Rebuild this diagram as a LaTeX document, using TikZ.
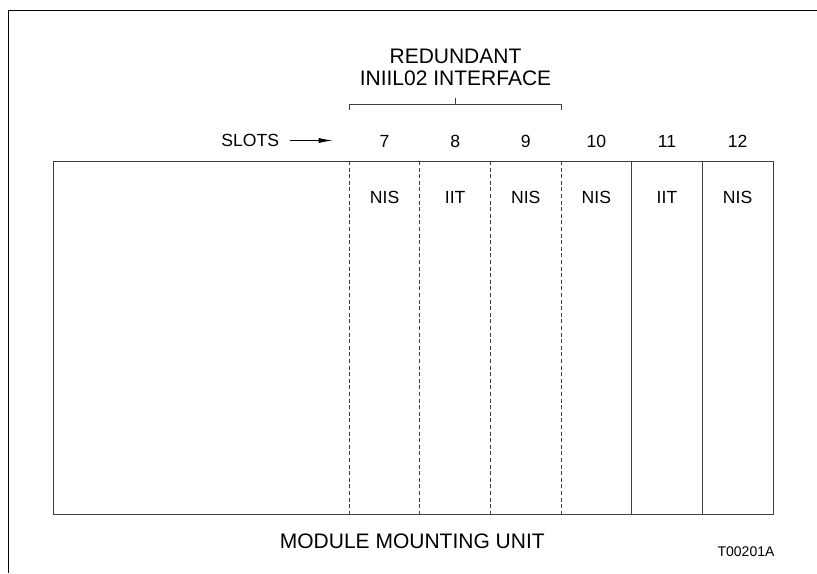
\documentclass[tikz,border=0pt]{standalone}
\usepackage{fontspec}
\setmainfont{Liberation Sans}
\usetikzlibrary{arrows.meta,positioning}

\tikzset{
    titletext/.style={font=\fontsize{10.5}{12}\selectfont, inner sep=0pt},
    slottext/.style={font=\fontsize{8.8}{10}\selectfont, inner sep=0pt},
    slotline/.style={line width=0.5pt, black!75},
    dashline/.style={line width=0.5pt, black!75, dash pattern=on 2pt off 1.3pt},
}

\begin{document}
\begin{tikzpicture}[x=0.5pt,y=-0.5pt]
    \useasboundingbox (0,0) rectangle (817,573);
    % frame
    \draw[line width=0.75pt] (817,10.7) -- (8.3,10.7) -- (8.3,573);
    % mounting unit
    \draw[slotline] (53,161) rectangle (773,514);
    \foreach \i in {0,...,3}
        \draw[dashline] (349.3+70.6*\i,161) -- (349.3+70.6*\i,514);
    \foreach \i in {4,5}
        \draw[slotline] (349.3+70.6*\i,161) -- (349.3+70.6*\i,514);
    \foreach \n/\lab [count=\i from 0] in {7/NIS,8/IIT,9/NIS,10/NIS,11/IIT,12/NIS} {
        \node[slottext] (num\n) at (384.6+70.6*\i,141) {\n};
        \node[slottext] (card\n) at (384.6+70.6*\i,197.5) {\lab};
    }
    % redundant pair bracket
    \node[titletext, anchor=base] (redund) at (455.5,63.3) {REDUNDANT};
    \node[titletext, anchor=base] (iface) at (455.5,85.7) {INIIL02 INTERFACE};
    \draw[slotline] (349.3,110) -- (349.3,104) -- (561.1,104) -- (561.1,110);
    \draw[slotline] (455.2,104) -- (455.2,98.3);
    % slots arrow
    \node[slottext, anchor=east] (slots) at (279.5,140.5) {SLOTS};
    \coordinate (slottip) at (332.7,140.5);
    \draw[line width=0.5pt, -{Latex[length=7pt,width=2.6pt]}] ([xshift=5pt]slots.east) -- (slottip);
    \node[titletext] (mmu) at (412.3,541.7) {MODULE MOUNTING UNIT};
    \node[font=\fontsize{7}{8}\selectfont, inner sep=0pt] (fignum) at (746,551.7) {T00201A};
\end{tikzpicture}
\end{document}
